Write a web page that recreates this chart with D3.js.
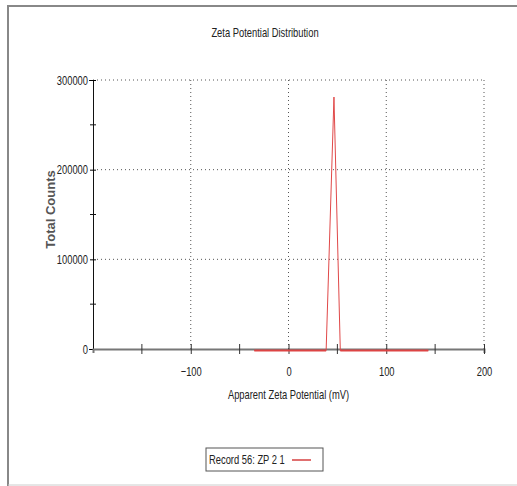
<!DOCTYPE html>
<html>
<head>
<meta charset="utf-8">
<script src="https://cdn.jsdelivr.net/npm/d3@7"></script>
<style>
  body { margin: 0; background: #fff; }
  text { font-family: "Liberation Sans", Arial, sans-serif; fill: #222; }
</style>
</head>
<body>
<svg id="chart" width="517" height="486"></svg>
<script>
// zeta potential (mV) and counts
const zeta = [-35, -20, 0, 20, 38.5, 46.5, 53, 70, 100, 120, 143];
const counts = [0, 0, 0, 0, 0, 281000, 0, 0, 0, 0, 0];
const xTicks = [-100, 0, 100, 200];
const xMinor = [-150, -50, 50, 150];
const yTicks = [0, 100000, 200000, 300000];
const yMinor = [50000, 150000, 250000];

const svg = d3.select("#chart"),
  margin = { top: 80, right: 33, bottom: 137, left: 93 },
  width = +svg.attr("width") - margin.left - margin.right,
  height = +svg.attr("height") - margin.top - margin.bottom;

// the original uses a narrow face; squeeze the glyphs horizontally
function narrow(sel, k = 0.72) {
  sel.each(function () {
    const len = this.getComputedTextLength();
    d3.select(this).attr("textLength", len * k).attr("lengthAdjust", "spacingAndGlyphs");
  });
}

// frame
svg.append("line").attr("x1", 8).attr("x2", 8).attr("y1", 5).attr("y2", 486)
  .attr("stroke", "#888").attr("stroke-width", 2);
svg.append("line").attr("x1", 7).attr("x2", 517).attr("y1", 6).attr("y2", 6)
  .attr("stroke", "#888").attr("stroke-width", 2);
svg.append("line").attr("x1", 8).attr("x2", 517).attr("y1", 485).attr("y2", 485)
  .attr("stroke", "#ccc").attr("stroke-width", 1);

svg.append("text")
  .attr("x", 265).attr("y", 37)
  .attr("text-anchor", "middle")
  .style("font-size", "13px")
  .text("Zeta Potential Distribution")
  .call(narrow);

const chart = svg.append("g")
  .attr("transform", `translate(${margin.left},${margin.top})`);

const x = d3.scaleLinear().domain([-200, 200]).range([0, width]);
const y = d3.scaleLinear().domain([0, 300000]).range([height, 0]);

// dotted grid
chart.append("g").selectAll("line").data(xTicks).join("line")
  .attr("x1", d => x(d)).attr("x2", d => x(d))
  .attr("y1", 0).attr("y2", height)
  .attr("stroke", "#555").attr("stroke-width", 1)
  .attr("stroke-dasharray", "1,3");
chart.append("g").selectAll("line").data(yTicks.filter(d => d > 0)).join("line")
  .attr("x1", 0).attr("x2", width)
  .attr("y1", d => y(d)).attr("y2", d => y(d))
  .attr("stroke", "#555").attr("stroke-width", 1)
  .attr("stroke-dasharray", "1,3");

// y axis
const yAxis = chart.append("g")
  .call(d3.axisLeft(y).tickValues(yTicks).tickSize(4).tickFormat(d3.format("d")));
yAxis.select(".domain").attr("stroke", "#111");
yAxis.selectAll("text").style("font-size", "13px").attr("x", -5).call(narrow);
yAxis.selectAll(".tick line").attr("x2", 3).attr("x1", -3);
chart.append("g").selectAll("line").data(yMinor).join("line")
  .attr("x1", -3).attr("x2", 3)
  .attr("y1", d => y(d)).attr("y2", d => y(d))
  .attr("stroke", "#111");

// x axis
const xAxis = chart.append("g")
  .attr("transform", `translate(0,${height})`)
  .call(d3.axisBottom(x).tickValues(xTicks).tickSize(4).tickFormat(d3.format("d")));
xAxis.select(".domain").attr("stroke", "#777").attr("stroke-width", 2);
xAxis.selectAll(".tick line").attr("y1", -5).attr("y2", 5).attr("stroke", "#333");
xAxis.selectAll("text").style("font-size", "13px").attr("y", 18).call(narrow);
chart.append("g").selectAll("line").data(xMinor).join("line")
  .attr("x1", d => x(d)).attr("x2", d => x(d))
  .attr("y1", height - 5).attr("y2", height + 5)
  .attr("stroke", "#333");

chart.append("text")
  .attr("x", x(0)).attr("y", height + 50)
  .attr("text-anchor", "middle")
  .style("font-size", "13px")
  .text("Apparent Zeta Potential (mV)")
  .call(narrow);

chart.append("text")
  .attr("transform", "rotate(-90)")
  .attr("x", -(y(150000)) + 5).attr("y", -38)
  .attr("text-anchor", "middle")
  .style("font-size", "13px")
  .style("font-weight", "bold")
  .style("fill", "#555")
  .text("Total Counts");

// distribution line
const pts = zeta.map((z, i) => ({ z, c: counts[i] }));
const line = d3.line().x(d => x(d.z)).y(d => y(d.c) + (d.c === 0 ? 1.5 : 0));
chart.append("path")
  .datum(pts)
  .attr("fill", "none")
  .attr("stroke", "#e04848")
  .attr("stroke-width", 1)
  .attr("d", line);
// thicker baseline segments like the original rendering
chart.append("g").selectAll("path")
  .data([pts.slice(0, 5), pts.slice(6)])
  .join("path")
  .attr("fill", "none")
  .attr("stroke", "#d44")
  .attr("stroke-width", 2)
  .attr("d", line);

// legend
const lg = svg.append("g").attr("transform", "translate(206,448)");
lg.append("rect").attr("width", 117).attr("height", 23)
  .attr("fill", "#fff").attr("stroke", "#555");
lg.append("text").attr("x", 3).attr("y", 16).style("font-size", "13px")
  .text("Record 56: ZP 2 1")
  .call(narrow);
lg.append("line").attr("x1", 86).attr("x2", 105).attr("y1", 12).attr("y2", 12)
  .attr("stroke", "#e07070").attr("stroke-width", 2);
</script>
</body>
</html>
